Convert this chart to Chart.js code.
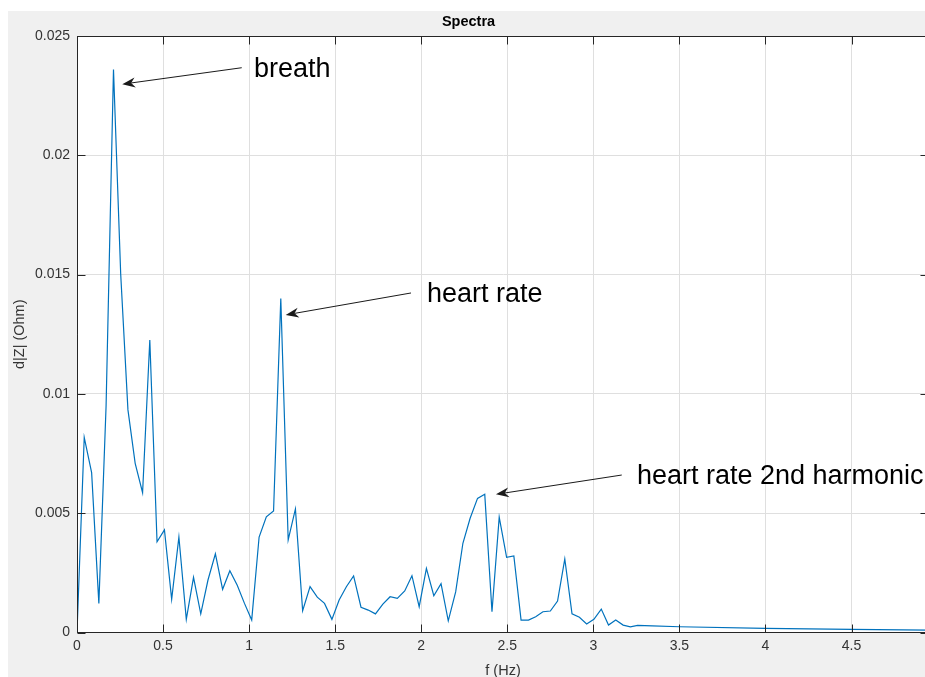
<!DOCTYPE html>
<html>
<head>
<meta charset="utf-8">
<title>Spectra</title>
<script src="https://cdn.jsdelivr.net/npm/chart.js@4.4.1/dist/chart.umd.min.js"></script>
<style>
  html, body { margin: 0; padding: 0; background: #ffffff; overflow: hidden; }
  #wrap { position: absolute; left: 0; top: 0; width: 940px; height: 677px; }
</style>
</head>
<body>
<div id="wrap"><canvas id="spectra" width="940" height="677"></canvas></div>
<script>
// Frequency bins (Hz) of the impedance spectrum
const freqHz = [
  0, 0.042, 0.085, 0.127, 0.169, 0.212, 0.254, 0.296, 0.338, 0.381,
  0.423, 0.465, 0.508, 0.550, 0.592, 0.635, 0.677, 0.719, 0.761, 0.804,
  0.846, 0.888, 0.931, 0.973, 1.015, 1.058, 1.100, 1.142, 1.184, 1.227,
  1.269, 1.311, 1.354, 1.396, 1.438, 1.481, 1.523, 1.565, 1.607, 1.650,
  1.692, 1.734, 1.777, 1.819, 1.861, 1.904, 1.946, 1.988, 2.030, 2.073,
  2.115, 2.157, 2.200, 2.242, 2.284, 2.327, 2.369, 2.411, 2.453, 2.496,
  2.538, 2.580, 2.623, 2.665, 2.707, 2.750, 2.792, 2.834, 2.876, 2.919,
  2.961, 3.003, 3.046, 3.088, 3.130, 3.173, 3.215, 3.257, 3.299, 3.342,
  3.5, 4.0, 4.5, 4.95
];

// Spectral magnitude d|Z| (Ohm) at each bin
const dZ = [
  0, 0.00818, 0.0067, 0.00122, 0.0095, 0.0236, 0.0150, 0.00933, 0.00709, 0.00586,
  0.01226, 0.0038, 0.0043, 0.00139, 0.0040, 0.00055, 0.00231, 0.00078, 0.0022, 0.0033,
  0.00181, 0.00259, 0.00198, 0.00122, 0.00052, 0.0040, 0.00485, 0.00509, 0.0140, 0.00388,
  0.00518, 0.00091, 0.00192, 0.00148, 0.00122, 0.00055, 0.00136, 0.00192, 0.00237, 0.00106,
  0.00094, 0.00078, 0.00119, 0.0015, 0.00143, 0.00174, 0.00238, 0.00108, 0.00269, 0.00154,
  0.00205, 0.00049, 0.0017, 0.00374, 0.00479, 0.00562, 0.00579, 0.00087, 0.00483, 0.00315,
  0.00321, 0.00052, 0.00052, 0.00066, 0.00087, 0.0009, 0.00132, 0.00308, 0.00078, 0.00064,
  0.00036, 0.00055, 0.00098, 0.00031, 0.00052, 0.00031, 0.00024, 0.0003, 0.00029, 0.00028,
  0.00024, 0.000175, 0.000135, 0.0001
];

const xTicks = [0, 0.5, 1, 1.5, 2, 2.5, 3, 3.5, 4, 4.5];
const yTicks = [0, 0.005, 0.01, 0.015, 0.02, 0.025];

const noteLabels = ['breath', 'heart rate', 'heart rate 2nd harmonic'];

// Callouts, placed in axis units: arrow tip, arrow tail, text anchor (left, baseline)
const callouts = [
  { tip: [0.263, 0.02298], tail: [0.957, 0.02367], text: [1.028, 0.02329] },
  { tip: [1.2125, 0.01331], tail: [1.9405, 0.01423], text: [2.033, 0.01385] },
  { tip: [2.434, 0.00579], tail: [3.165, 0.0066], text: [3.253, 0.00622] }
];

const FONT = '"Liberation Sans", Arial, Helvetica, sans-serif';
const AXIS_COLOR = '#262626';
const LABEL_COLOR = '#333333';
const GRID_COLOR = '#dfdfdf';

const fmt = v => String(Number(Number(v).toFixed(4)));

// Grey figure background with a white axes box
const figureBackground = {
  id: 'figureBackground',
  beforeDraw(chart) {
    const { ctx, chartArea: a } = chart;
    ctx.save();
    ctx.fillStyle = '#f0f0f0';
    ctx.fillRect(8, 11, chart.width, chart.height);
    ctx.fillStyle = '#ffffff';
    ctx.fillRect(a.left, a.top, a.right - a.left, a.bottom - a.top);
    ctx.restore();
  }
};

// Box outline with inward tick marks on all four sides
const axesBox = {
  id: 'axesBox',
  afterDatasetsDraw(chart) {
    const { ctx, chartArea: a, scales: { x, y } } = chart;
    const len = 8;
    ctx.save();
    ctx.strokeStyle = AXIS_COLOR;
    ctx.lineWidth = 1;
    ctx.beginPath();
    const top = Math.round(a.top) + 0.5;
    const bottom = Math.round(a.bottom) - 0.5;
    const left = Math.round(a.left) + 0.5;
    const right = Math.round(a.right) - 0.5;
    ctx.moveTo(left, top); ctx.lineTo(right, top);
    ctx.moveTo(right, top); ctx.lineTo(right, bottom);
    ctx.moveTo(left, top); ctx.lineTo(left, bottom);
    ctx.moveTo(left, bottom); ctx.lineTo(right, bottom);
    xTicks.forEach(v => {
      const px = Math.round(x.getPixelForValue(v)) + 0.5;
      ctx.moveTo(px, bottom); ctx.lineTo(px, bottom - len);
      ctx.moveTo(px, top); ctx.lineTo(px, top + len);
    });
    yTicks.forEach(v => {
      const py = Math.round(y.getPixelForValue(v)) + 0.5;
      ctx.moveTo(left, py); ctx.lineTo(left + len, py);
      ctx.moveTo(right, py); ctx.lineTo(right - len, py);
    });
    ctx.stroke();
    ctx.restore();
  }
};

function drawArrow(ctx, x0, y0, x1, y1) {
  const dx = x1 - x0, dy = y1 - y0;
  const d = Math.hypot(dx, dy);
  const ux = dx / d, uy = dy / d;
  const nx = -uy, ny = ux;
  const L = 13, W = 5, N = 9;
  ctx.beginPath();
  ctx.moveTo(x0, y0);
  ctx.lineTo(x1 - ux * N, y1 - uy * N);
  ctx.stroke();
  ctx.beginPath();
  ctx.moveTo(x1, y1);
  ctx.lineTo(x1 - ux * L + nx * W, y1 - uy * L + ny * W);
  ctx.lineTo(x1 - ux * N, y1 - uy * N);
  ctx.lineTo(x1 - ux * L - nx * W, y1 - uy * L - ny * W);
  ctx.closePath();
  ctx.fill();
}

// Text callouts with arrows pointing at the spectral peaks
const peakCallouts = {
  id: 'peakCallouts',
  afterDraw(chart) {
    const { ctx, scales: { x, y } } = chart;
    ctx.save();
    ctx.lineWidth = 1;
    callouts.forEach((c, i) => {
      ctx.strokeStyle = '#1a1a1a';
      ctx.fillStyle = '#1a1a1a';
      drawArrow(ctx,
        x.getPixelForValue(c.tail[0]), y.getPixelForValue(c.tail[1]),
        x.getPixelForValue(c.tip[0]), y.getPixelForValue(c.tip[1]));
      ctx.fillStyle = '#000000';
      ctx.font = '27px ' + FONT;
      ctx.textAlign = 'left';
      ctx.textBaseline = 'alphabetic';
      ctx.fillText(noteLabels[i], x.getPixelForValue(c.text[0]), y.getPixelForValue(c.text[1]));
    });
    ctx.restore();
  }
};

const tickFont = { family: FONT, size: 14 };
const axisTitleFont = { family: FONT, size: 14.5 };

new Chart(document.getElementById('spectra'), {
  type: 'line',
  data: {
    datasets: [{
      data: freqHz.map((f, i) => ({ x: f, y: dZ[i] })),
      borderColor: '#0072BD',
      borderWidth: 1.2,
      pointRadius: 0,
      fill: false,
      tension: 0
    }]
  },
  options: {
    responsive: false,
    animation: false,
    devicePixelRatio: 1,
    layout: { padding: { left: 8, right: 11, top: 0, bottom: 0 } },
    plugins: {
      legend: { display: false },
      tooltip: { enabled: false },
      title: {
        display: true,
        text: 'Spectra',
        color: '#000000',
        font: { family: FONT, size: 14.5, weight: 'bold', lineHeight: 1.2 },
        padding: { top: 13, bottom: 5.6 }
      }
    },
    scales: {
      x: {
        type: 'linear',
        min: 0,
        max: 4.95,
        afterFit(s) { s.height = 44.5; },
        ticks: {
          stepSize: 0.5,
          includeBounds: false,
          padding: 5,
          color: LABEL_COLOR,
          font: tickFont,
          maxRotation: 0,
          callback: v => fmt(v)
        },
        grid: { color: GRID_COLOR, lineWidth: 1, drawTicks: false },
        border: { display: true, color: AXIS_COLOR, width: 1 },
        title: {
          display: true,
          text: 'f (Hz)',
          color: LABEL_COLOR,
          font: axisTitleFont,
          padding: { top: 0, bottom: -3 }
        }
      },
      y: {
        type: 'linear',
        min: 0,
        max: 0.025,
        afterFit(s) { s.width = 69; },
        ticks: {
          stepSize: 0.005,
          padding: 7,
          color: LABEL_COLOR,
          font: tickFont,
          callback: v => fmt(v)
        },
        grid: { color: GRID_COLOR, lineWidth: 1, drawTicks: false },
        border: { display: true, color: AXIS_COLOR, width: 1 },
        title: {
          display: true,
          text: 'd|Z| (Ohm)',
          color: LABEL_COLOR,
          font: axisTitleFont,
          padding: { top: 3.5, bottom: 0 }
        }
      }
    }
  },
  plugins: [figureBackground, axesBox, peakCallouts]
});
</script>
</body>
</html>
